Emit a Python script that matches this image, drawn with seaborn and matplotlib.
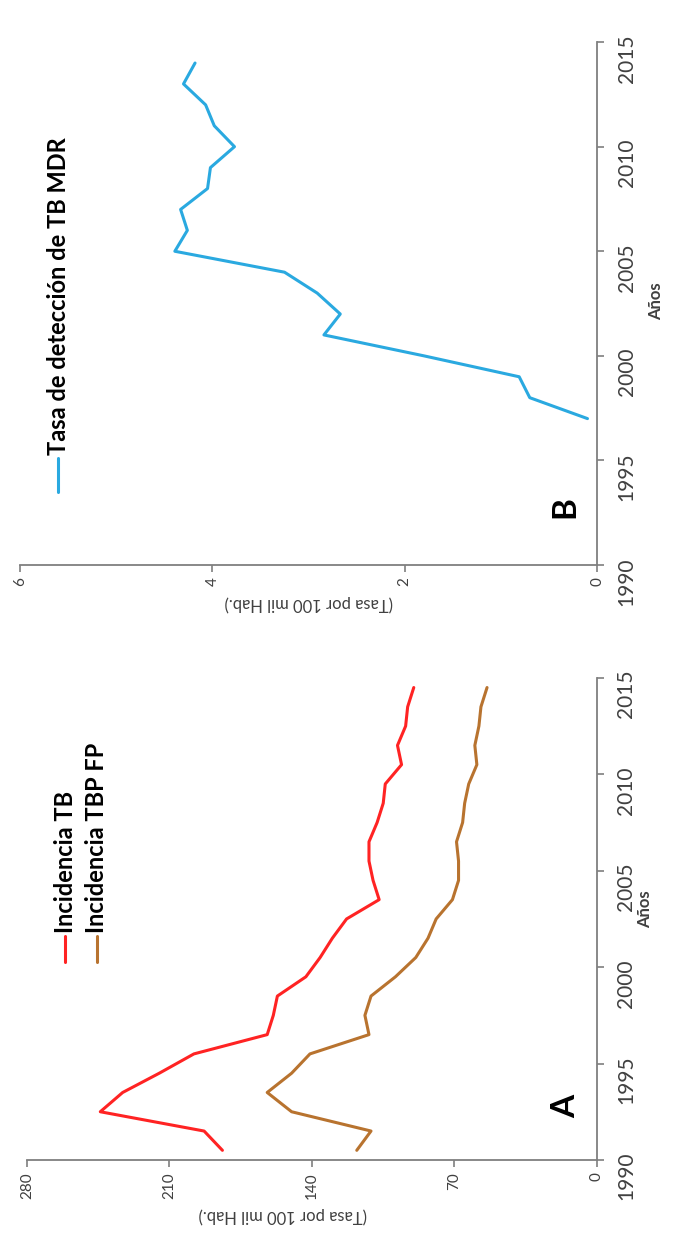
import numpy as np
import pandas as pd
import matplotlib
matplotlib.use("Agg")
import matplotlib.pyplot as plt
import seaborn as sns

# Panel A: incidencia (tasa por 100 mil hab.), 1990-2014
years_a = np.arange(1990, 2015)
incidencia_tb = [184, 193, 244, 233, 215, 198, 162, 159, 157, 143, 136, 130, 123,
                 107, 110, 112, 112, 108, 105, 104, 96, 98, 94, 93, 90]
incidencia_tbp_fp = [118, 111, 150, 162, 150, 141, 112, 114, 111, 99, 89, 83, 79,
                     71, 68, 68, 69, 66, 65, 63, 59, 60, 58, 57, 54]

# Panel B: tasa de deteccion TB MDR, 1997-2014
years_b = np.arange(1997, 2015)
tasa_mdr = [0.1, 0.7, 0.81, 1.8, 2.84, 2.67, 2.91, 3.25, 4.39, 4.26, 4.33, 4.05,
            4.02, 3.77, 3.98, 4.07, 4.30, 4.18]

series_a = ["Incidencia TB", "Incidencia TBP FP"]
series_b = ["Tasa de detección de TB MDR"]
colors_a = ["#ff2323", "#b8732f"]
colors_b = ["#2aa9e0"]
year_ticks = list(range(1990, 2016, 5))
ticks_a = [0, 70, 140, 210, 280]
ticks_b = [0, 2, 4, 6]

sns.set_theme(style="white")
plt.rcParams["font.family"] = ["Lato", "DejaVu Sans"]

AXIS_COL = "#7f7f7f"
TEXT_COL = "#404040"

fig = plt.figure(figsize=(6.75, 12.57), dpi=100)
ax_b = fig.add_axes([0.0296, 0.5505, 0.855, 0.416])
ax_a = fig.add_axes([0.04, 0.0772, 0.8444, 0.3835])

# data frames (years plotted mid-year in panel A, as in the original)
df_a = pd.DataFrame({
    "anio": np.concatenate([years_a, years_a]) + 0.5,
    "tasa": incidencia_tb + incidencia_tbp_fp,
    "serie": [series_a[0]] * len(years_a) + [series_a[1]] * len(years_a),
})
df_b = pd.DataFrame({"anio": years_b, "tasa": tasa_mdr, "serie": series_b[0]})

sns.lineplot(data=df_a, x="tasa", y="anio", hue="serie", palette=colors_a,
             orient="y", linewidth=2.2, legend=False, ax=ax_a)
sns.lineplot(data=df_b, x="tasa", y="anio", hue="serie", palette=colors_b,
             orient="y", linewidth=2.2, legend=False, ax=ax_b)


def style_panel(ax, vmax, vticks, letter, label_x, anos_pos, letter_pos):
    ax.set_xlim(vmax, 0)
    ax.set_ylim(1990, 2015)
    ax.set_xticks(vticks)
    ax.set_yticks(year_ticks)
    ax.yaxis.tick_right()
    for s in ["top", "left"]:
        ax.spines[s].set_visible(False)
    for s in ["right", "bottom"]:
        ax.spines[s].set_color(AXIS_COL)
        ax.spines[s].set_linewidth(1.3)
    ax.tick_params(axis="both", direction="out", length=5, width=1.2,
                   color=AXIS_COL, labelcolor=TEXT_COL)
    ax.tick_params(axis="x", bottom=True, labelsize=11, labelrotation=90, pad=4)
    ax.tick_params(axis="y", right=True, left=False, labelsize=15,
                   labelrotation=90, pad=9)
    ax.set_xlabel("(Tasa por 100 mil Hab.)", rotation=180, fontsize=12,
                  color=TEXT_COL, labelpad=6, x=label_x)
    ax.set_ylabel("")
    ax.text(anos_pos[0], anos_pos[1], "Años", transform=ax.transAxes,
            rotation=90, ha="center", va="center", fontsize=12,
            fontweight="bold", color=TEXT_COL)
    ax.text(letter_pos[0], letter_pos[1], letter, transform=ax.transAxes,
            rotation=90, ha="center", va="center", fontsize=24,
            fontweight="bold", color="black")


def manual_legend(ax, labels, colors, xs, y0, y1):
    # vertical legend entries (figure was rotated)
    for lab, col, x in zip(labels, colors, xs):
        ax.plot([x, x], [y0, y1], color=col, lw=2.2, transform=ax.transAxes,
                clip_on=False)
        ax.text(x, y1 + 0.005, lab, transform=ax.transAxes, rotation=90,
                ha="center", va="bottom", fontsize=17, fontweight="bold",
                color="black")


style_panel(ax_b, 6, ticks_b, "B", 0.5, (1.102, 0.504), (0.945, 0.11))
style_panel(ax_a, 280, ticks_a, "A", 0.449, (1.084, 0.52), (0.945, 0.11))

manual_legend(ax_b, series_b, colors_b, [0.066], 0.14, 0.205)
manual_legend(ax_a, series_a, colors_a, [0.0667, 0.122], 0.41, 0.465)

fig.savefig("out.png", dpi=100, facecolor="white")
